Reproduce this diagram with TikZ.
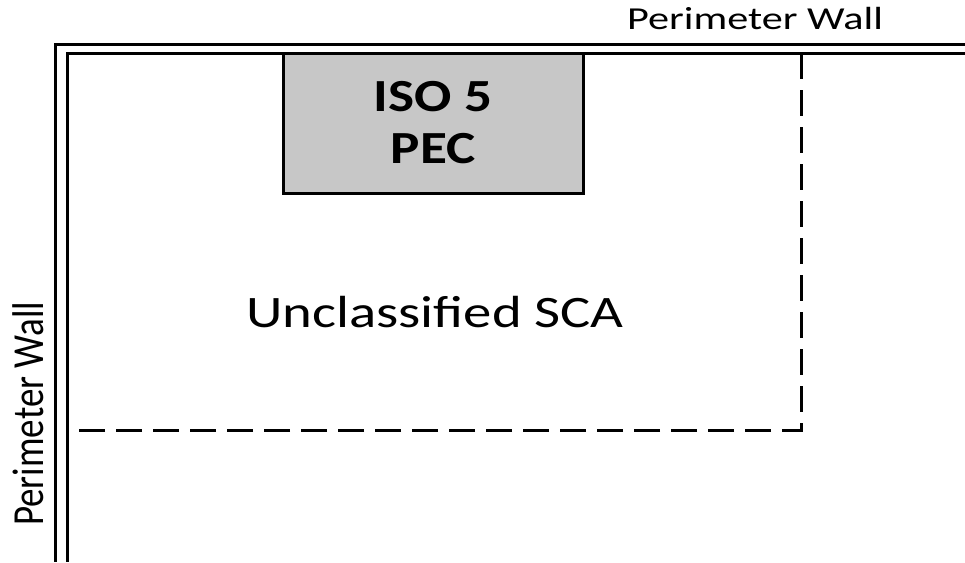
\documentclass[tikz,border=0pt]{standalone}
\usepackage{fontspec}
\setmainfont{Carlito}
\tikzset{wall/.style={line width=3pt}}
\tikzset{zone/.style={line width=3pt, dash pattern=on 26pt off 11pt}}
\tikzset{pec/.style={rectangle, draw, line width=3pt, fill=black!22,
   minimum width=250pt, minimum height=140pt, inner sep=0pt,
   align=center, xscale=1.2,
   font=\fontsize{46}{52}\selectfont\bfseries}}
\tikzset{lbl/.style={anchor=base, inner sep=0pt}}

\begin{document}
\begin{tikzpicture}[x=1pt, y=-1pt]

    \useasboundingbox (0,0) rectangle (965,562);

    % perimeter walls
    \draw[wall] (965,44.5) -- (55.5,44.5) -- (55.5,562);
    \draw[wall] (965,53) -- (67,53) -- (67,562);

    % sca boundary
    \draw[zone] (801,53) -- (801,430) -- (67,430);

    \node[pec] (iso) at (433,123) {ISO 5\\PEC};

    \node[lbl, xscale=1.26, font=\fontsize{45}{54}\selectfont] (sca) at (435,327) {Unclassified SCA};
    \node[lbl, xscale=1.32, font=\fontsize{32}{38}\selectfont] (wallN) at (755,29) {Perimeter Wall};
    \node[lbl, xscale=1.2, rotate=90, font=\fontsize{37}{44}\selectfont] (wallW) at (43,414) {Perimeter Wall};

  \end{tikzpicture}
\end{document}
